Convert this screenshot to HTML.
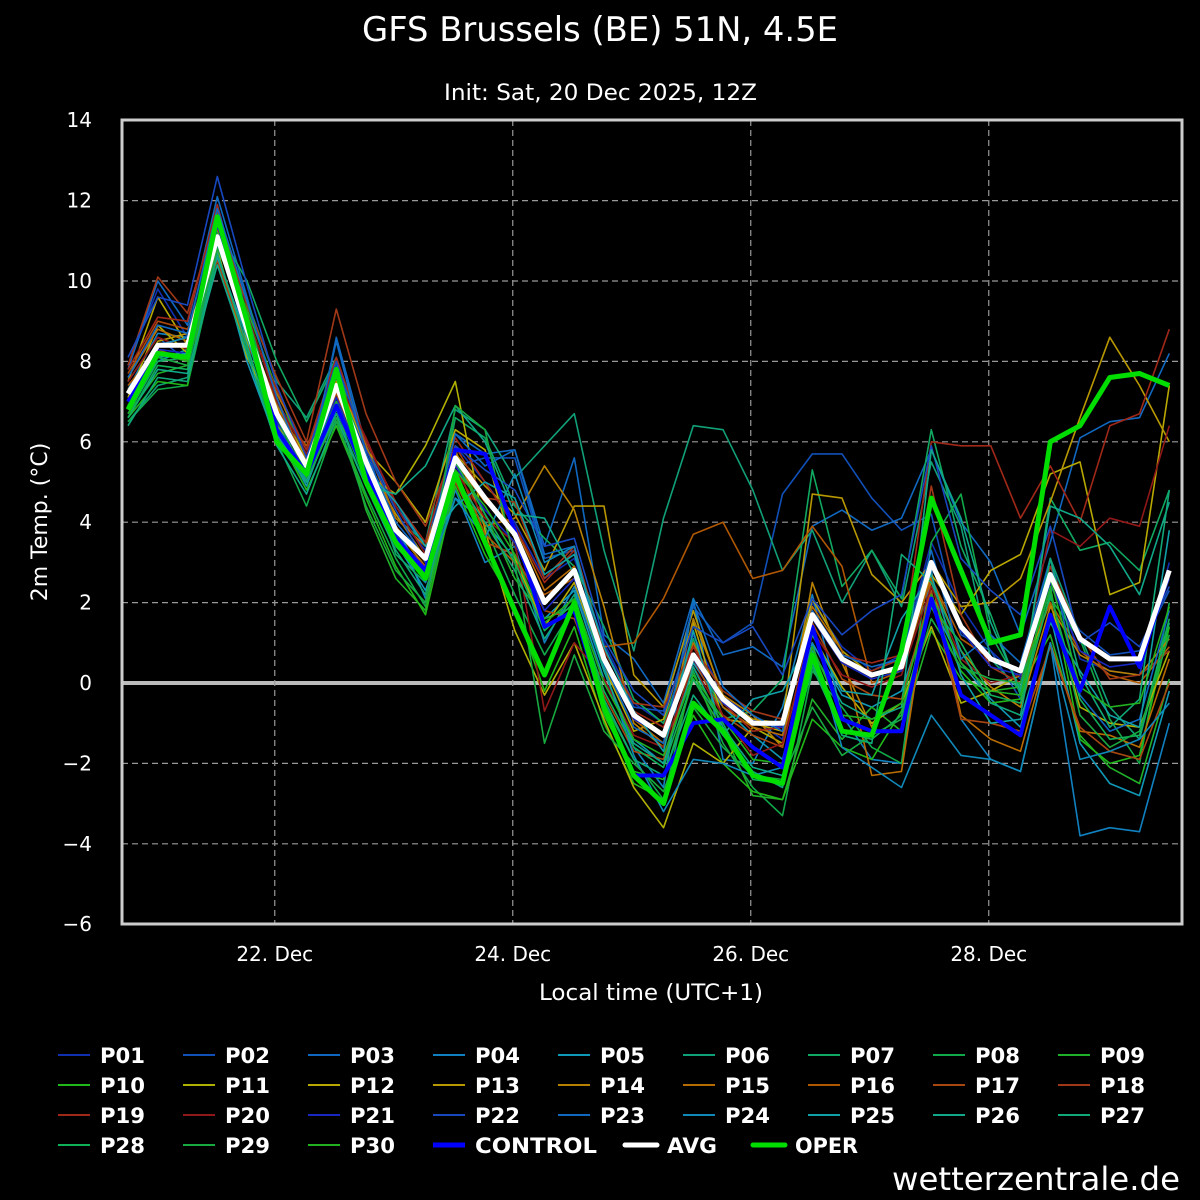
<!DOCTYPE html>
<html><head><meta charset="utf-8"><style>
html,body{margin:0;padding:0;background:#000;}
svg{display:block;font-family:"DejaVu Sans","Liberation Sans",sans-serif;}
</style></head><body>
<svg id="chart" width="1200" height="1200" viewBox="0 0 1200 1200" xmlns="http://www.w3.org/2000/svg">
<rect width="1200" height="1200" fill="#000"/>
<text x="362" y="41" fill="#fff" font-size="34" textLength="476" lengthAdjust="spacingAndGlyphs">GFS Brussels (BE) 51N, 4.5E</text>
<text x="444" y="100" fill="#fff" font-size="22" textLength="313" lengthAdjust="spacingAndGlyphs">Init: Sat, 20 Dec 2025, 12Z</text>
<text transform="translate(47,522) rotate(-90)" fill="#fff" font-size="22" text-anchor="middle">2m Temp. (°C)</text>
<text x="539" y="1000" fill="#fff" font-size="22" textLength="224" lengthAdjust="spacingAndGlyphs">Local time (UTC+1)</text>
<text x="892" y="1190" fill="#fff" font-size="32" textLength="288" lengthAdjust="spacingAndGlyphs">wetterzentrale.de</text>
<g id="grid"></g><g id="series"></g><g id="legend"></g>
<rect x="122" y="120" width="1060" height="804" fill="none" stroke="#ccc" stroke-width="3"/>
</svg>
<script>
const yTicks=[14,12,10,8,6,4,2,0,-2,-4,-6];
const xTickLabels=["22. Dec","24. Dec","26. Dec","28. Dec"];
const xTickIndex=[5,13,21,29];
const avg=[7.2,8.4,8.4,11.1,8.8,6.7,5.4,7.4,5.5,3.8,3.1,5.6,4.6,3.7,2.0,2.8,0.6,-0.8,-1.3,0.7,-0.4,-1.0,-1.0,1.7,0.6,0.2,0.4,3.0,1.4,0.6,0.3,2.7,1.1,0.6,0.6,2.8];
const oper=[6.8,8.2,8.1,11.6,9.0,6.0,5.2,7.8,5.0,3.5,2.6,5.2,3.5,1.8,0.2,2.0,-0.6,-2.3,-3.0,-0.5,-1.2,-2.3,-2.5,0.7,-1.2,-1.3,0.8,4.6,2.8,1.0,1.2,6.0,6.4,7.6,7.7,7.4];
const control=[7.0,8.2,8.1,11.5,9.0,6.3,5.2,6.9,5.2,3.6,2.8,5.8,5.7,3.8,1.4,1.8,-0.6,-2.3,-2.3,-1.0,-0.9,-1.6,-2.1,1.4,-0.9,-1.2,-1.2,2.1,-0.3,-0.8,-1.3,1.7,-0.2,1.9,0.4,2.8];
const P01=[7.9,9.8,8.6,11.9,9.2,7.0,5.8,7.9,5.6,4.2,3.3,5.9,5.0,4.0,2.6,3.1,1.0,-0.5,-1.0,1.2,-0.3,-0.9,-1.4,2.0,0.9,0.3,0.7,3.5,1.9,0.8,0.1,3.1,0.6,0.3,0.2,3.0];
const P02=[7.5,8.6,8.0,11.2,8.5,6.6,5.5,7.3,5.9,3.6,2.9,5.4,5.6,5.6,3.1,3.3,0.9,-0.6,-0.7,1.9,1.0,1.5,4.7,5.7,5.7,4.6,3.8,4.2,1.2,0.8,-0.4,2.4,1.3,0.7,0.8,2.3];
const P03=[7.8,10.0,8.9,12.1,9.6,7.0,5.0,8.6,5.9,4.4,3.4,6.2,5.7,5.8,3.4,5.6,1.2,0.6,-0.5,2.1,0.7,0.9,0.4,3.9,4.3,3.8,4.1,5.8,4.0,3.0,1.2,3.5,6.1,6.5,6.6,8.2];
const P04=[7.3,8.7,8.6,10.9,8.9,6.5,5.0,7.6,5.0,3.9,2.1,4.8,3.0,3.4,1.0,2.4,0.3,-1.6,-2.6,2.1,-1.9,-2.0,-0.6,2.2,-0.8,-1.9,-2.0,2.8,-0.9,-1.9,-2.2,1.0,-3.8,-3.6,-3.7,-1.0];
const P05=[6.9,8.0,8.3,10.7,8.0,6.0,5.0,6.8,5.1,3.5,2.3,4.6,4.0,3.1,1.6,2.3,0.1,-1.4,-2.0,0.5,-0.6,-1.3,-1.9,1.0,-0.3,-0.6,-0.2,2.0,0.5,-0.4,-1.1,1.7,-1.5,-2.5,-2.8,-0.2];
const P06=[6.5,7.4,7.6,10.9,9.5,7.5,6.6,8.1,5.9,4.1,3.5,6.8,6.3,5.1,5.9,6.7,3.3,0.8,4.1,6.4,6.3,4.8,2.8,3.8,2.0,3.3,1.9,5.5,3.9,0.6,-0.2,3.1,1.2,-0.6,-1.4,1.5];
const P07=[6.7,8.0,8.1,11.3,10.0,8.0,6.5,8.0,5.4,3.2,2.5,6.6,6.1,4.4,3.6,2.9,1.4,-0.4,-1.0,1.1,-0.9,-0.7,0.1,5.3,2.4,3.3,2.1,6.3,3.4,1.7,-0.3,4.6,3.3,3.5,2.8,4.8];
const P08=[6.5,7.3,7.4,10.6,8.3,6.0,4.4,6.5,4.7,3.1,1.9,5.0,3.9,2.2,0.7,1.9,-0.5,-1.9,-2.9,0.3,-1.5,-2.6,-3.3,0.3,-0.6,-1.6,-2.0,3.5,4.7,1.2,-0.1,2.1,1.1,-0.9,-2.0,2.0];
const P09=[6.7,7.7,7.9,11.0,9.3,7.3,5.5,7.0,4.3,2.6,1.8,5.7,4.2,2.6,1.6,1.9,-0.8,-2.2,-2.4,0.1,-1.2,-2.8,-2.9,-0.4,-1.4,-0.6,-1.2,1.3,0.1,-0.2,-0.1,1.2,-1.3,-2.1,-2.5,0.1];
const P10=[6.6,7.5,7.4,11.4,8.6,6.2,4.8,6.4,4.6,2.9,1.7,4.9,3.2,1.9,-0.2,1.4,-1.0,-2.5,-2.9,-0.8,-2.0,-2.7,-2.9,-0.9,-1.6,-1.9,-0.7,1.9,0.3,-0.5,-0.4,2.4,-1.4,-2.0,-1.8,1.4];
const P11=[7.1,8.9,8.2,10.8,8.1,6.6,5.3,7.3,5.2,4.7,5.9,7.5,3.8,1.3,-0.3,1.0,-0.9,-2.6,-3.6,-1.5,-2.0,-1.1,-1.5,1.2,-0.1,-1.0,-0.5,1.4,-0.5,-0.2,0.2,2.0,-0.6,-1.0,-1.1,0.8];
const P12=[7.5,9.6,8.4,11.5,8.5,6.9,5.6,7.7,5.8,5.0,4.0,6.3,5.8,3.1,1.4,2.5,0.4,-1.2,-0.9,1.5,-0.9,-1.0,-1.2,2.1,0.8,0.2,0.3,2.7,1.7,2.8,3.2,5.2,5.5,2.2,2.5,7.4];
const P13=[7.2,8.5,8.7,11.0,8.7,6.4,5.6,7.5,5.5,4.2,3.1,5.7,4.9,4.2,2.8,4.4,4.4,0.2,-0.6,1.8,-0.4,-0.9,-1.0,4.7,4.6,2.7,2.0,3.0,1.9,2.0,2.6,4.5,6.6,8.6,7.4,6.0];
const P14=[7.3,8.2,8.1,11.2,8.9,6.9,5.5,7.2,5.7,3.8,2.9,5.8,3.9,4.1,5.4,4.3,1.9,-1.0,-1.6,1.6,-0.3,-0.8,-1.6,2.5,0.5,-1.1,0.6,2.6,0.8,-0.1,-0.6,1.9,0.7,0.3,0.2,1.1];
const P15=[7.6,8.8,8.5,11.3,9.1,7.2,5.8,7.7,5.9,4.1,3.4,5.5,4.5,3.9,2.3,2.9,0.6,-0.9,-1.5,1.0,-0.6,-1.1,-1.3,1.9,0.8,-2.3,-2.2,2.6,-0.8,-1.4,-1.7,1.0,-1.2,-1.3,-1.6,0.6];
const P16=[7.4,8.3,8.0,11.1,8.8,6.8,5.9,7.4,5.6,3.9,3.0,5.5,3.7,3.0,2.2,2.6,0.9,1.0,2.1,3.7,4.0,2.6,2.8,3.9,2.9,0.0,0.3,2.6,1.1,0.6,0.3,2.0,0.8,0.2,0.0,0.9];
const P17=[7.7,9.0,8.8,10.5,8.4,7.1,5.4,7.2,5.1,3.6,2.9,5.0,3.5,3.2,1.8,1.6,-0.3,-1.7,-1.9,0.6,-0.8,-1.3,-1.6,1.5,0.1,-0.3,-0.4,2.3,-0.9,-1.0,-1.2,0.9,-1.1,-1.7,-1.9,0.0];
const P18=[7.9,10.1,9.2,11.7,9.4,7.6,6.0,9.3,6.7,5.0,3.9,5.9,4.6,4.5,2.6,3.4,0.8,-0.5,-0.6,0.9,-0.2,-0.7,-0.9,1.6,0.5,0.3,0.6,4.9,1.7,0.4,0.0,2.9,1.2,0.1,0.2,0.8];
const P19=[7.8,9.1,9.0,11.9,9.0,7.3,5.8,8.1,6.0,4.5,3.5,6.1,5.0,3.9,2.5,3.3,0.6,-0.7,-1.1,0.9,-0.5,-1.2,-1.1,1.8,0.7,0.5,0.7,6.0,5.9,5.9,4.1,5.4,4.0,6.4,6.7,8.8];
const P20=[7.5,8.6,8.3,11.6,9.2,7.0,5.7,7.6,6.1,4.4,3.2,5.3,4.1,3.5,-0.7,1.0,0.1,-1.3,-1.6,0.4,-0.8,-1.8,-1.5,1.3,0.2,-0.1,0.2,2.4,0.6,0.0,0.2,3.8,3.4,4.1,3.9,6.4];
const P21=[7.0,8.3,8.2,11.2,8.8,6.5,5.4,7.1,5.3,3.7,2.8,5.4,4.3,3.5,1.8,2.6,0.5,-0.9,-1.3,0.6,-0.5,-1.0,-1.1,1.6,0.5,0.1,0.3,2.9,1.3,0.4,0.2,2.5,0.8,0.4,0.5,2.6];
const P22=[8.1,9.6,9.4,12.6,9.9,7.4,5.6,8.0,5.8,4.3,3.0,5.9,5.3,4.8,3.4,3.6,1.1,-0.2,-0.8,1.4,1.0,1.4,0.2,2.1,1.2,1.8,2.2,5.9,3.1,2.3,1.7,3.9,1.0,1.5,0.9,2.4];
const P23=[7.6,8.9,8.7,11.8,9.5,7.1,5.2,8.5,5.7,4.0,3.1,6.2,5.4,5.8,3.2,3.4,0.5,-1.1,-1.5,2.0,-0.1,-0.8,-1.2,1.8,0.7,0.4,0.6,3.3,0.6,1.2,0.5,3.1,-0.3,-1.2,-0.9,1.8];
const P24=[7.2,8.4,8.6,11.0,8.7,6.2,5.1,7.3,5.4,3.9,2.5,4.6,3.6,5.2,3.0,3.4,0.4,-1.8,-3.2,-1.9,-2.0,-2.3,-2.1,1.0,-1.6,-2.1,-2.6,-0.8,-1.8,-1.9,-2.2,1.0,-1.9,-1.7,-1.4,-0.5];
const P25=[6.8,8.1,8.2,10.6,8.6,6.3,4.9,6.9,5.3,4.5,3.4,4.4,5.0,4.6,2.7,3.2,0.9,-0.7,-1.7,1.3,-1.3,-0.4,-0.2,1.2,-0.2,-0.3,1.6,2.7,0.2,-1.0,-0.9,1.5,0.3,-0.8,-1.1,3.8];
const P26=[6.6,7.8,7.7,10.4,8.2,5.9,4.7,6.6,4.9,4.7,5.4,6.9,6.0,4.2,4.1,2.7,0.3,-1.5,-2.0,0.4,-1.1,-2.1,-2.3,0.8,-0.5,-0.9,-0.6,5.8,4.1,1.5,-0.2,4.4,4.1,3.4,2.2,4.5];
const P27=[6.4,7.6,7.5,10.7,8.4,6.1,5.0,6.7,4.9,3.3,2.2,5.1,4.0,2.8,1.1,2.2,-0.4,-1.9,-2.3,-0.3,-1.3,-2.2,-2.6,0.5,-1.3,-1.5,3.2,2.5,0.8,-0.5,-0.8,3.1,0.2,-1.1,-0.4,4.8];
const P28=[6.6,7.9,7.8,11.1,8.7,6.4,5.2,6.9,5.0,3.4,2.6,5.5,4.2,3.0,1.3,2.0,-0.2,-1.6,-2.1,0.1,-1.0,-2.4,-2.5,0.4,-1.2,-1.4,-0.8,1.9,1.0,-0.3,-0.5,2.2,-0.4,-1.4,-1.3,1.6];
const P29=[6.8,8.1,7.9,10.8,9.2,6.6,5.1,6.6,4.4,2.8,2.0,6.9,6.3,3.0,-1.5,0.7,-1.2,-2.0,-2.7,-0.6,-1.6,-2.3,-2.4,-0.6,-1.8,-1.3,-0.9,1.6,0.4,0.1,0.0,2.3,-0.8,-1.6,-1.2,1.2];
const P30=[6.9,8.2,8.0,11.2,8.9,6.3,5.3,7.0,5.2,3.6,2.7,5.3,4.4,3.2,1.5,2.1,0.0,-1.4,-1.8,0.2,-0.9,-1.9,-2.0,0.9,-0.8,-0.9,-0.5,2.2,0.5,-0.2,-0.3,2.6,-0.1,-0.6,-0.5,1.9];
const memberNames=["P01","P02","P03","P04","P05","P06","P07","P08","P09","P10","P11","P12","P13","P14","P15","P16","P17","P18","P19","P20","P21","P22","P23","P24","P25","P26","P27","P28","P29","P30"];
const members=[P01,P02,P03,P04,P05,P06,P07,P08,P09,P10,P11,P12,P13,P14,P15,P16,P17,P18,P19,P20,P21,P22,P23,P24,P25,P26,P27,P28,P29,P30];
const colors=["#1030b0","#1050b8","#1068c0","#1080c0","#1098b8","#10a078","#10a860","#10a848","#20b028","#20b818","#b0b000","#b8a800","#b89800","#b88000","#b86c00","#b05800","#a84810","#a03818","#a02818","#901818","#1828c0","#1848c0","#1068c0","#1088b8","#10a0a8","#10a888","#10a878","#10b058","#18a840","#20b020"];

const NS="http://www.w3.org/2000/svg";
function X(i){return 128+i*29.75;}
function Y(v){return 683-v*40.2;}
function mk(tag,attrs,parent){const e=document.createElementNS(NS,tag);for(const k in attrs)e.setAttribute(k,attrs[k]);parent.appendChild(e);return e;}
const grid=document.getElementById('grid'),ser=document.getElementById('series'),leg=document.getElementById('legend');
yTicks.forEach(v=>{
  if(v!==14&&v!==-6&&v!==0){const l=mk('line',{x1:122,x2:1182,y1:Y(v),y2:Y(v),stroke:'#999','stroke-width':1.2,'stroke-dasharray':'6,4'},grid);
  
  }
  const t=mk('text',{x:92,y:Y(v)+7,fill:'#fff','font-size':20,'text-anchor':'end'},grid);
  
  
  t.textContent=String(v).replace('-','\u2212');
});
const z=mk('line',{x1:122,x2:1182,y1:Y(0),y2:Y(0),stroke:'#bbb','stroke-width':4},grid);


xTickIndex.forEach((idx,k)=>{
  const l=mk('line',{x1:X(idx)-2,x2:X(idx)-2,y1:120,y2:924,stroke:'#999','stroke-width':1.2,'stroke-dasharray':'6,4'},grid);
  
  
  const t=mk('text',{x:X(idx)-2,y:961,fill:'#fff','font-size':20,'text-anchor':'middle'},grid);
  
  
  t.textContent=xTickLabels[k];
});
function path(arr){return arr.map((v,i)=>(i?'L':'M')+X(i).toFixed(1)+','+Y(v).toFixed(1)).join(' ');}
members.forEach((arr,k)=>{
  const p=mk('path',{d:path(arr),fill:'none',stroke:colors[k],'stroke-width':1.6,'stroke-linejoin':'round'},ser);
  
  
});
const pc=mk('path',{d:path(control),fill:'none',stroke:'#0000ff','stroke-width':4,'stroke-linejoin':'round'},ser);


const pa=mk('path',{d:path(avg),fill:'none',stroke:'#fff','stroke-width':5,'stroke-linejoin':'round'},ser);


const po=mk('path',{d:path(oper),fill:'none',stroke:'#00dd00','stroke-width':5,'stroke-linejoin':'round'},ser);


const legNames=memberNames.concat(["CONTROL","AVG","OPER"]);
const legColors=colors.concat(["#0000ff","#ffffff","#00dd00"]);
const extraX=[433,625,753];
const extraW=[122,50,63];
legNames.forEach((n,k)=>{
  const col=k%9,row=Math.floor(k/9);
  const x=k>=30?extraX[k-30]:58+col*125,y=1055+row*30;
  const g=mk('g',{},leg);
  
  
  mk('line',{x1:x,x2:x+32,y1:y,y2:y,stroke:legColors[k],'stroke-width':k>=30?5:2,'stroke-linecap':k>=31?'round':'butt'},g);
  const t=mk('text',{x:x+42,y:y+8,fill:'#fff','font-size':21,'font-weight':'bold',textLength:k>=30?extraW[k-30]:45,lengthAdjust:'spacingAndGlyphs'},g);
  t.textContent=n;
});
</script>
</body></html>
